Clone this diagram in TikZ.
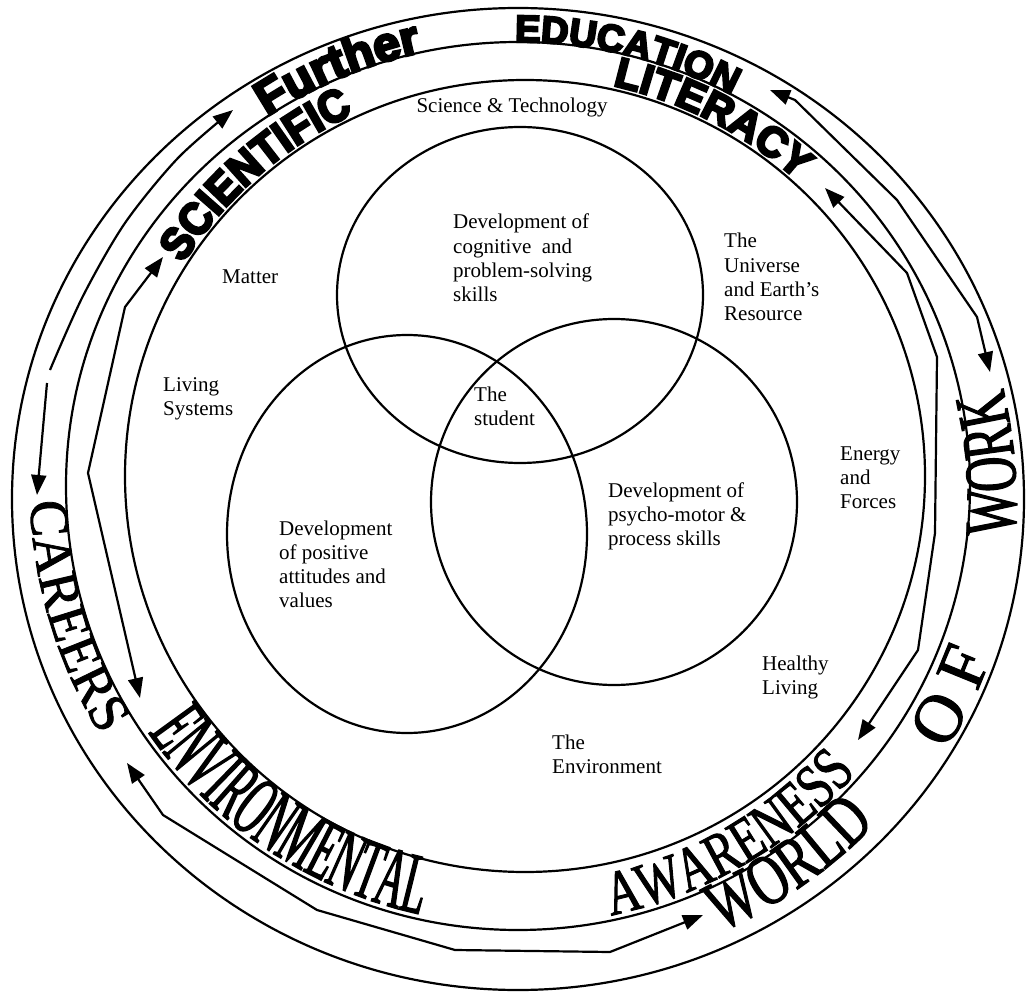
\documentclass[tikz,border=0pt]{standalone}
\usepackage{fontspec}
\setmainfont{Liberation Serif}
\newfontfamily\heavyA{Liberation Sans Bold}[FakeBold=6]
\newfontfamily\heavyB{Liberation Sans Bold}[FakeBold=6,FakeStretch=0.92]
\newfontfamily\serifC{Liberation Serif}[FakeBold=1.5]
\newfontfamily\serifE{Liberation Serif}[FakeBold=1.5,FakeStretch=0.45]
\newfontfamily\serifA{Liberation Serif}[FakeBold=1.5,FakeStretch=0.75]
\newfontfamily\serifD{Liberation Serif}[FakeBold=1.5,FakeStretch=0.72]
\newfontfamily\serifK{Liberation Serif}[FakeBold=1.5,FakeStretch=0.66]
\newfontfamily\serifO{Liberation Serif}[FakeBold=1.5]
\usetikzlibrary{decorations.text,arrows.meta}
\newcommand\lns[1]{\begin{tabular}[t]{@{}l@{}}#1\end{tabular}}
\tikzset{
  ring/.style={line width=2.2pt},
  lbl/.style={font=\fontsize{21}{24.2}\selectfont, anchor=base west, inner sep=0pt},
  darrow/.style={line width=2.2pt, line join=round, {Triangle[length=20pt,width=15pt]}-{Triangle[length=20pt,width=15pt]}},
  sarrow/.style={line width=2.2pt, line join=round, -{Triangle[length=20pt,width=15pt]}},
  arctext/.style={decorate, decoration={text along path, text align=center, text={#1}}}
}
\begin{document}
\begin{tikzpicture}[x=1pt,y=-1pt]
\useasboundingbox (0,0) rectangle (1028,992);
% rings
\draw[ring] (518,499) ellipse [x radius=506, y radius=491];
\draw[ring] (518,486) ellipse [x radius=452, y radius=444];
\draw[ring] (525,476) ellipse [x radius=400, y radius=396];
% Venn circles
\draw[ring] (520,295) ellipse [x radius=183, y radius=168];
\draw[ring] (407,534) ellipse [x radius=180, y radius=199];
\draw[ring] (614,502) circle [radius=183];
% arrows
\draw[sarrow] plot[smooth] coordinates {(50,370) (83,296) (125,223) (178,158) (233,110)};
\draw[sarrow] (47,383) -- (37,495);
\draw[darrow] (163,257) -- (125,307) -- (88,473) -- (140,698);
\draw[darrow] (127,763) -- (163,815) -- (317,910) -- (455,950) -- (610,952) -- (703,915);
\draw[darrow] (770,90) -- (795,100) -- (897,200) -- (977,317) -- (990,372);
\draw[darrow] (825,188) -- (907,273) -- (937,357) -- (935,533) -- (918,650) -- (858,740);
% band texts (outer band)
\path[arctext={|\heavyA\fontsize{48}{48}\selectfont|Further}]
  plot[variable=\t, domain=0:1, samples=100] ({518+452*cos(230+34*\t)}, {486+444*sin(230+34*\t)});
\path[arctext={|\heavyA\fontsize{38}{38}\selectfont|EDUCATION}]
  plot[variable=\t, domain=0:1, samples=100] ({518+452*cos(262+44*\t)}, {486+444*sin(262+44*\t)});
\path[arctext={|\serifC\fontsize{55}{55}\selectfont|CAREERS}]
  plot[variable=\t, domain=0:1, samples=100] ({518+488*cos(192-57*\t)}, {487+478*sin(192-57*\t)});
\path[arctext={|\serifD\fontsize{72}{72}\selectfont|WORLD}]
  plot[variable=\t, domain=0:1, samples=100] ({518+490*cos(74-39.4*\t)}, {499+475*sin(74-39.4*\t)});
\path[arctext={|\serifO\fontsize{68}{68}\selectfont|O F}]
  plot[variable=\t, domain=0:1, samples=100] ({518+500*cos(42-34*\t)}, {499+486*sin(42-34*\t)});
\path[arctext={|\serifK\fontsize{74}{74}\selectfont|WORK}]
  plot[variable=\t, domain=0:1, samples=100] ({518+498*cos(16-40.8*\t)}, {499+485*sin(16-40.8*\t)});
% band texts (inner band)
\path[arctext={|\heavyB\fontsize{45}{45}\selectfont|SCIENTIFIC}]
  plot[variable=\t, domain=0:1, samples=100] ({525+404*cos(200+57*\t)}, {476+400*sin(200+57*\t)});
\path[arctext={|\heavyA\fontsize{42}{42}\selectfont|LITERACY}]
  plot[variable=\t, domain=0:1, samples=100] ({525+404*cos(275+45*\t)}, {476+400*sin(275+45*\t)});
\path[arctext={|\serifE\fontsize{86}{86}\selectfont|ENVIRONMENTAL}]
  plot[variable=\t, domain=0:1, samples=100] ({518+447*cos(152-55.6*\t)}, {486+439*sin(152-55.6*\t)});
\path[arctext={|\serifA\fontsize{63}{63}\selectfont|AWARENESS}]
  plot[variable=\t, domain=0:1, samples=100] ({518+447*cos(85-51.4*\t)}, {486+439*sin(85-51.4*\t)});
% inner labels
\node[lbl, anchor=base] (sci) at (512,113) {Science \& Technology};
\node[lbl] (mat) at (222,284) {Matter};
\node[lbl] (liv) at (163,391) {\lns{Living\\Systems}};
\node[lbl] (cog) at (453,229) {\lns{Development of\\cognitive~ and\\problem-solving\\skills}};
\node[lbl] (uni) at (724,248) {\lns{The\\Universe\\and Earth’s\\Resource}};
\node[lbl] (stu) at (474,401) {\lns{The\\student}};
\node[lbl] (ene) at (840,460) {\lns{Energy\\and\\Forces}};
\node[lbl] (psy) at (608,497) {\lns{Development of\\psycho-motor \&\\process skills}};
\node[lbl] (att) at (279,535) {\lns{Development\\of positive\\attitudes and\\values}};
\node[lbl] (hea) at (762,670) {\lns{Healthy\\Living}};
\node[lbl] (env) at (552,749) {\lns{The\\Environment}};
\end{tikzpicture}
\end{document}
